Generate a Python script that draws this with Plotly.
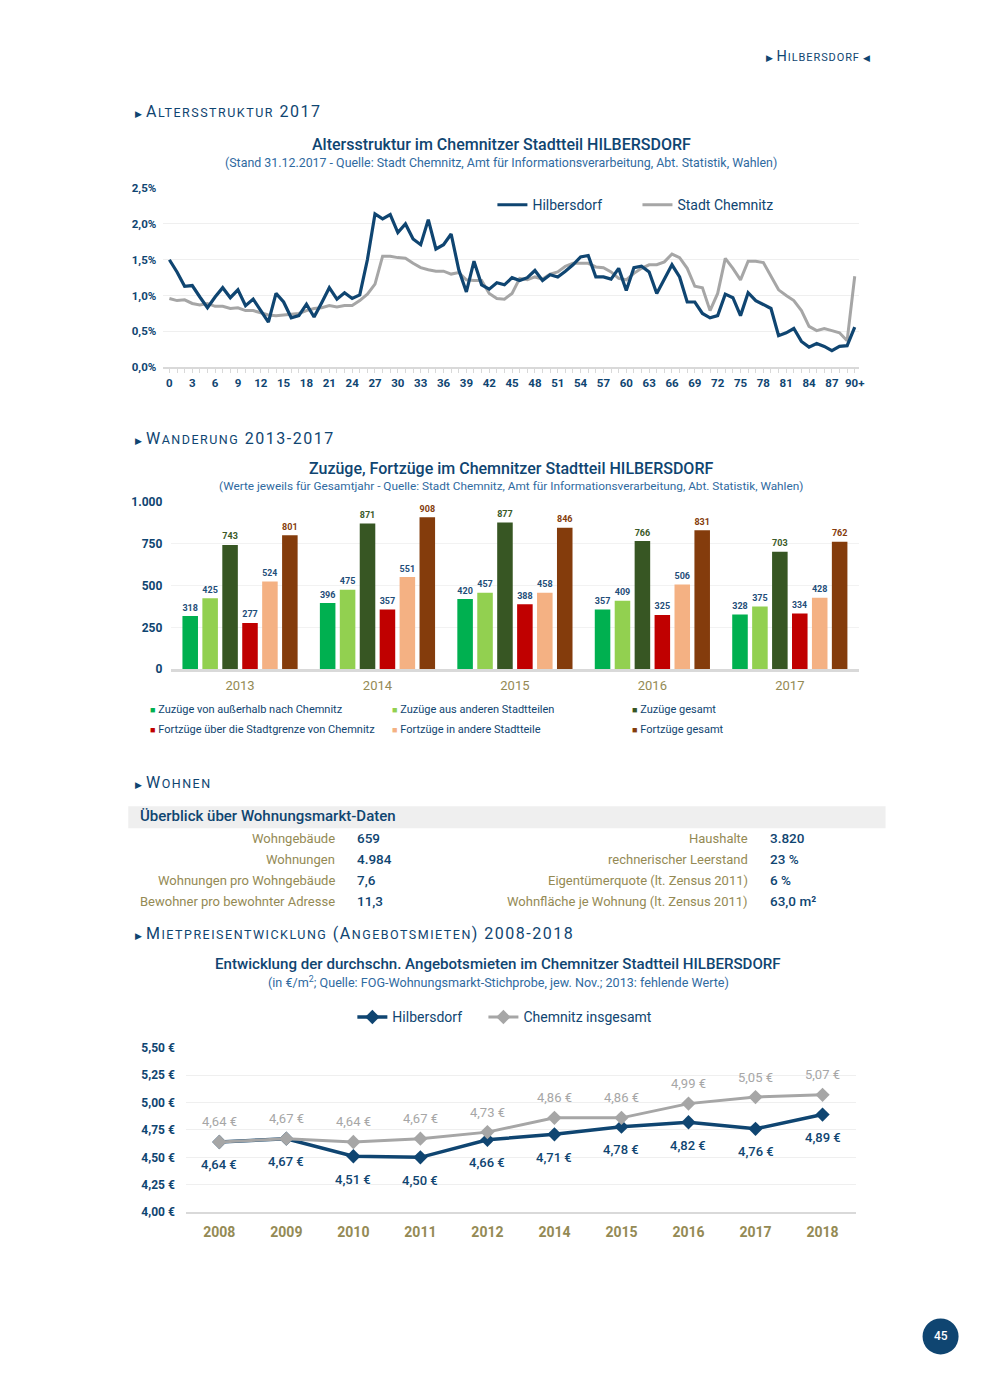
import itertools
import plotly.graph_objects as go

# Page placement: the page body adds a margin around the figure; the mapping below turns
# page pixel positions (as measured on the reference) into paper fractions.
OX, OY = 8, 8
FW, FH = 990 - 2 * OX, 1389 - 2 * OY
SX, CX = 0.9935, 0.2
SY, CY = 0.9895, 7.0
def px(x): return ((x + CX) / SX - OX) / FW
def py(y): return 1 - ((y - CY) / SY - OY) / FH

FONT = "Roboto"
NAVY = "#0F4571"
GRAY = "#A6A6A6"
KHAKI = "#948A54"
SUBBLUE = "#2F6A9F"
LABELBLUE = "#1F4E79"

# ---------------- data: Altersstruktur ----------------
ages = list(range(91))
age_tickvals = list(range(0, 91, 3))
age_ticktext = [str(a) for a in range(0, 90, 3)] + ["90+"]
age_pct_ticks = [0, 0.5, 1.0, 1.5, 2.0, 2.5]
age_pct_text = ["0,0%", "0,5%", "1,0%", "1,5%", "2,0%", "2,5%"]
hilbersdorf_age = [1.50, 1.33, 1.13, 1.14, 0.98, 0.83, 0.98, 1.11, 0.97, 1.08,
                   0.86, 0.95, 0.79, 0.63, 1.03, 0.91, 0.69, 0.72, 0.88, 0.70,
                   0.90, 1.11, 0.95, 1.04, 0.96, 1.01, 1.50, 2.14, 2.07, 2.13,
                   1.88, 2.00, 1.79, 1.71, 2.06, 1.65, 1.71, 1.86, 1.36, 1.05,
                   1.48, 1.15, 1.09, 1.18, 1.15, 1.25, 1.21, 1.25, 1.35, 1.21,
                   1.29, 1.26, 1.34, 1.43, 1.54, 1.56, 1.26, 1.26, 1.23, 1.38,
                   1.07, 1.39, 1.41, 1.33, 1.03, 1.22, 1.43, 1.26, 0.91, 0.91,
                   0.75, 0.69, 0.72, 1.02, 0.97, 0.72, 1.04, 0.93, 0.88, 0.82,
                   0.44, 0.48, 0.54, 0.36, 0.28, 0.33, 0.29, 0.23, 0.29, 0.30,
                   0.56]
chemnitz_age = [0.96, 0.93, 0.94, 0.89, 0.87, 0.89, 0.85, 0.85, 0.82, 0.83,
                0.79, 0.79, 0.76, 0.73, 0.72, 0.73, 0.73, 0.75, 0.79, 0.82,
                0.83, 0.86, 0.84, 0.86, 0.86, 0.93, 1.02, 1.16, 1.55, 1.55,
                1.53, 1.52, 1.45, 1.39, 1.36, 1.34, 1.34, 1.30, 1.32, 1.22,
                1.21, 1.21, 1.03, 0.96, 0.95, 1.03, 1.24, 1.22, 1.26, 1.23,
                1.30, 1.33, 1.41, 1.45, 1.45, 1.45, 1.40, 1.39, 1.33, 1.24,
                1.22, 1.31, 1.38, 1.43, 1.43, 1.47, 1.58, 1.53, 1.38, 1.13,
                1.11, 0.79, 1.03, 1.52, 1.38, 1.22, 1.48, 1.48, 1.46, 1.26,
                1.08, 1.00, 0.93, 0.79, 0.57, 0.51, 0.54, 0.51, 0.48, 0.37,
                1.27]

# ---------------- data: Wanderung ----------------
migr_years = ["2013", "2014", "2015", "2016", "2017"]
migr_names = ["Zuzüge von außerhalb nach Chemnitz", "Zuzüge aus anderen Stadtteilen",
              "Zuzüge gesamt", "Fortzüge über die Stadtgrenze von Chemnitz",
              "Fortzüge in andere Stadtteile", "Fortzüge gesamt"]
zuzuege_aussen = [318, 396, 420, 357, 328]
zuzuege_stadtteile = [425, 475, 457, 409, 375]
zuzuege_gesamt = [743, 871, 877, 766, 703]
fortzuege_grenze = [277, 357, 388, 325, 334]
fortzuege_stadtteile = [524, 551, 458, 506, 428]
fortzuege_gesamt = [801, 908, 846, 831, 762]
migr_ticks = [0, 250, 500, 750, 1000]
migr_ticktext = ["0", "250", "500", "750", "1.000"]

# ---------------- data: Wohnen table ----------------
left_labels = ["Wohngebäude", "Wohnungen", "Wohnungen pro Wohngebäude", "Bewohner pro bewohnter Adresse"]
left_values = ["659", "4.984", "7,6", "11,3"]
right_labels = ["Haushalte", "rechnerischer Leerstand", "Eigentümerquote (lt. Zensus 2011)",
                "Wohnfläche je Wohnung (lt. Zensus 2011)"]
right_values = ["3.820", "23 %", "6 %", "63,0 m²"]

# ---------------- data: Mieten ----------------
rent_years = ["2008", "2009", "2010", "2011", "2012", "2014", "2015", "2016", "2017", "2018"]
rent_hilbersdorf = [4.64, 4.67, 4.51, 4.50, 4.66, 4.71, 4.78, 4.82, 4.76, 4.89]
rent_chemnitz = [4.64, 4.67, 4.64, 4.67, 4.73, 4.86, 4.86, 4.99, 5.05, 5.07]
rent_ticks = [4.00, 4.25, 4.50, 4.75, 5.00, 5.25, 5.50]

def euro(v):
    return f"{v:.2f} €".replace(".", ",")

fig = go.Figure()

# Age chart
fig.add_trace(go.Scatter(x=ages, y=chemnitz_age, mode="lines", name="Stadt Chemnitz",
                         line=dict(color=GRAY, width=3), xaxis="x", yaxis="y",
                         legend="legend2", hoverinfo="skip"))
fig.add_trace(go.Scatter(x=ages, y=hilbersdorf_age, mode="lines", name="Hilbersdorf",
                         line=dict(color=NAVY, width=3.2), xaxis="x", yaxis="y",
                         legend="legend", hoverinfo="skip"))

# Bars
bar_series = [zuzuege_aussen, zuzuege_stadtteile, zuzuege_gesamt,
              fortzuege_grenze, fortzuege_stadtteile, fortzuege_gesamt]
bar_colors = ["#00B050", "#92D050", "#375623", "#C00000", "#F4B183", "#843C0C"]
bar_label_colors = [LABELBLUE, LABELBLUE, "#3B5A28", LABELBLUE, LABELBLUE, "#843C0C"]
for name, vals, col, lcol in zip(migr_names, bar_series, bar_colors, bar_label_colors):
    fig.add_trace(go.Bar(x=migr_years, y=vals, name=name, marker=dict(color=col, line=dict(width=0)),
                         text=vals, textposition="outside", cliponaxis=False,
                         textfont=dict(color=lcol, size=11, family=FONT, weight="bold"),
                         xaxis="x2", yaxis="y2", showlegend=False, hoverinfo="skip"))

# Rent chart
fig.add_trace(go.Scatter(x=rent_years, y=rent_hilbersdorf, mode="lines+markers", name="Hilbersdorf",
                         line=dict(color=NAVY, width=3.5),
                         marker=dict(symbol="diamond", size=11, color=NAVY),
                         xaxis="x3", yaxis="y3", legend="legend3", hoverinfo="skip"))
fig.add_trace(go.Scatter(x=rent_years, y=rent_chemnitz, mode="lines+markers", name="Chemnitz insgesamt",
                         line=dict(color=GRAY, width=3),
                         marker=dict(symbol="diamond", size=11, color=GRAY),
                         xaxis="x3", yaxis="y3", legend="legend4", hoverinfo="skip"))

ann = []
def text(x, y, s, size, color, xanchor="left", weight="normal"):
    ann.append(dict(x=px(x), y=py(y), xref="paper", yref="paper", text=s, showarrow=False,
                    xanchor=xanchor, yanchor="middle",
                    font=dict(size=size, color=color, family=FONT, weight=weight)))

def smallcaps(s, small, spacing):
    out = []
    for low, grp in itertools.groupby(s, key=lambda c: c.islower()):
        chunk = "".join(grp)
        if low:
            out.append(f'<span style="font-size:{small}px;letter-spacing:{spacing}px">{chunk.upper()}</span>')
        else:
            out.append(f'<span style="letter-spacing:{spacing}px">{chunk}</span>')
    return "".join(out)

TRI = '<span style="font-size:9px">▶</span> '
text(763, 56, TRI + smallcaps("Hilbersdorf", 11, 0.9) + ' <span style="font-size:9px">◀</span>', 14.5, NAVY)
for label, yy in [("Altersstruktur 2017", 111), ("Wanderung 2013-2017", 438),
                  ("Wohnen", 782), ("Mietpreisentwicklung (Angebotsmieten) 2008-2018", 933)]:
    text(133, yy, TRI + smallcaps(label, 12.5, 1.5), 16, NAVY)

# chart titles
text(501, 144, "Altersstruktur im Chemnitzer Stadtteil HILBERSDORF", 16, NAVY, "center", 500)
text(501, 162, "(Stand 31.12.2017 - Quelle: Stadt Chemnitz, Amt für Informationsverarbeitung, Abt. Statistik, Wahlen)",
     12.4, SUBBLUE, "center")
text(511, 468, "Zuzüge, Fortzüge im Chemnitzer Stadtteil HILBERSDORF", 16, NAVY, "center", 500)
text(511, 486, "(Werte jeweils für Gesamtjahr - Quelle: Stadt Chemnitz, Amt für Informationsverarbeitung, Abt. Statistik, Wahlen)",
     11.8, SUBBLUE, "center")
text(498, 964, "Entwicklung der durchschn. Angebotsmieten im Chemnitzer Stadtteil HILBERSDORF", 15.1, NAVY, "center", 500)
text(498, 982, "(in €/m<sup>2</sup>; Quelle: FOG-Wohnungsmarkt-Stichprobe, jew. Nov.; 2013: fehlende Werte)",
     12.6, SUBBLUE, "center")

# bar legend (manual)
leg_pos = [(148, 709), (390, 709), (630, 709), (148, 729), (390, 729), (630, 729)]
for (lx, ly), name, col in zip(leg_pos, migr_names, bar_colors):
    text(lx, ly, f'<span style="color:{col};font-size:9px">■</span> {name}', 11, NAVY)

# table
text(138, 816, "Überblick über Wohnungsmarkt-Daten", 15, NAVY, "left", 500)
row_y = [838, 859, 880, 901]
for yy, l1, v1, l2, v2 in zip(row_y, left_labels, left_values, right_labels, right_values):
    text(337, yy, l1, 13, KHAKI, "right")
    text(355, yy, v1, 13.5, NAVY, "left", 500)
    text(749, yy, l2, 13, KHAKI, "right")
    text(767, yy, v2, 13.5, NAVY, "left", 500)

# rent labels (category index positions)
for i, v in enumerate(rent_chemnitz):
    ann.append(dict(x=i, y=v, xref="x3", yref="y3", text=euro(v), showarrow=False, yshift=20,
                    xanchor="center", yanchor="middle",
                    font=dict(size=13, color=GRAY, family=FONT)))
for i, v in enumerate(rent_hilbersdorf):
    ann.append(dict(x=i, y=v, xref="x3", yref="y3", text=euro(v), showarrow=False, yshift=-23,
                    xanchor="center", yanchor="middle",
                    font=dict(size=13, color=NAVY, family=FONT, weight=500)))

# page number
ann.append(dict(x=px(940), y=py(1336), xref="paper", yref="paper", text="45", showarrow=False,
                xanchor="center", yanchor="middle",
                font=dict(size=12, color="white", family=FONT, weight=500)))

shapes = [
    dict(type="rect", xref="paper", yref="paper", x0=px(128), x1=px(885), y0=py(828), y1=py(806),
         fillcolor="#EFEFEF", line=dict(width=0), layer="below"),
    dict(type="circle", xref="paper", yref="paper", x0=px(922), x1=px(958), y0=py(1354), y1=py(1318),
         fillcolor=NAVY, line=dict(width=0)),
]

tickfont = dict(size=11.5, color=NAVY, family=FONT, weight="bold")

def leg(x, y):
    return dict(orientation="h", x=px(x), y=py(y), xanchor="left", yanchor="middle",
                font=dict(size=14, color=NAVY, family=FONT), bgcolor="rgba(0,0,0,0)")

fig.update_layout(
    width=FW, height=FH, margin=dict(l=0, r=0, t=0, b=0),
    paper_bgcolor="white", plot_bgcolor="white",
    font=dict(family=FONT, color=NAVY),
    barmode="group", bargap=0.13, bargroupgap=0.22,
    annotations=ann, shapes=shapes,
    xaxis=dict(domain=[px(163), px(858)], range=[-0.8, 90.5], anchor="y",
               tickmode="array", tickvals=age_tickvals, ticktext=age_ticktext,
               tickfont=tickfont, showgrid=False, zeroline=False,
               showline=True, linecolor="#D9D9D9", linewidth=2,
               ticks="outside", ticklen=4, tickcolor="#D9D9D9",
               minor=dict(tickmode="linear", tick0=0, dtick=1, ticks="outside", ticklen=4, tickcolor="#D9D9D9")),
    yaxis=dict(domain=[py(367), py(188)], range=[0, 2.5], anchor="x",
               tickmode="array", tickvals=age_pct_ticks, ticktext=age_pct_text,
               tickfont=tickfont, gridcolor="#EFEFEF", zeroline=False, showline=False,
               ticklabelstandoff=6),
    xaxis2=dict(domain=[px(171), px(858)], type="category", range=[-0.5, 4.5], anchor="y2",
                tickfont=dict(size=13, color=KHAKI, family=FONT), showgrid=False,
                showline=True, linecolor="#D9D9D9", linewidth=2.5, ticks="",
                ticklabelstandoff=2),
    yaxis2=dict(domain=[py(669), py(501.7)], range=[0, 1000], anchor="x2",
                tickmode="array", tickvals=migr_ticks, ticktext=migr_ticktext,
                tickfont=dict(size=12, color=NAVY, family=FONT, weight="bold"),
                gridcolor="#F2F2F2", zeroline=False, ticklabelstandoff=8),
    xaxis3=dict(domain=[px(185.5), px(855.5)], type="category", range=[-0.5, 9.5], anchor="y3",
                tickfont=dict(size=14, color=KHAKI, family=FONT, weight="bold"), showgrid=False,
                showline=True, linecolor="#D9D9D9", linewidth=2, ticks="",
                ticklabelstandoff=6),
    yaxis3=dict(domain=[py(1211.7), py(1047.3)], range=[4.0, 5.5], anchor="x3",
                tickmode="array", tickvals=rent_ticks, ticktext=[euro(t) for t in rent_ticks],
                tickfont=dict(size=12, color=NAVY, family=FONT, weight="bold"),
                gridcolor="#EFEFEF", zeroline=False, ticklabelstandoff=10),
    legend=leg(492, 205),
    legend2=leg(637, 205),
    legend3=leg(352, 1017),
    legend4=leg(483, 1017),
)

fig.write_html("out.html")
